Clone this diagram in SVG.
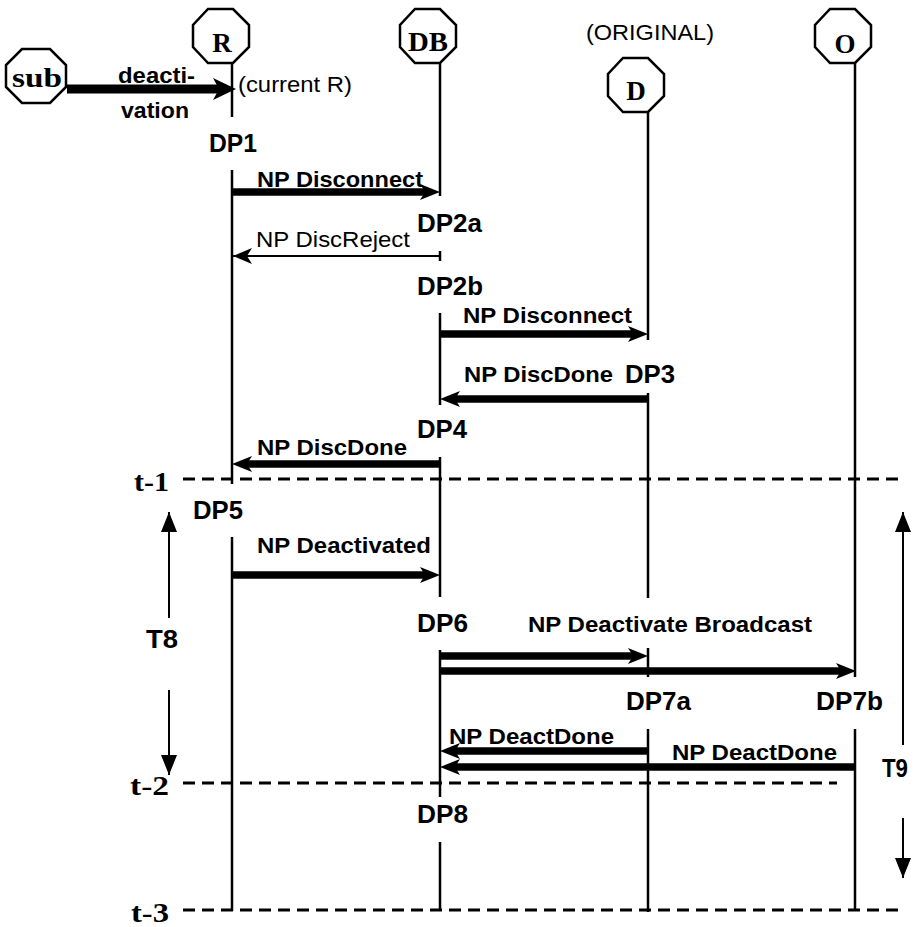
<svg xmlns="http://www.w3.org/2000/svg" width="913" height="927" viewBox="0 0 913 927">
  <style>
    .oct { fill: #fff; stroke: #000; stroke-width: 2.5; }
    .life { stroke: #000; stroke-width: 2.5; fill: none; }
    .olabel { font-family: "Liberation Serif", "Times New Roman", serif; font-weight: bold; font-size: 27px; text-anchor: middle; }
    .dp { font-family: "Liberation Sans", Arial, sans-serif; font-weight: bold; font-size: 26px; }
    .msg { font-family: "Liberation Sans", Arial, sans-serif; font-weight: bold; font-size: 22.5px; }
    .plain { font-family: "Liberation Sans", Arial, sans-serif; font-size: 22px; }
    .tick { font-family: "Liberation Serif", "Times New Roman", serif; font-weight: bold; font-size: 28px; }
    .thick { stroke: #000; stroke-width: 7.5; fill: none; marker-end: url(#head); }
    .thin { stroke: #000; stroke-width: 2; fill: none; marker-end: url(#headThin); }
    .span { stroke: #000; stroke-width: 2; fill: none; marker-end: url(#headT); }
    .dash { stroke: #000; stroke-width: 3; stroke-dasharray: 12 7; fill: none; }
  </style>
  <defs>
    <marker id="head" markerUnits="userSpaceOnUse" viewBox="0 -10 20 20" markerWidth="20" markerHeight="20" refX="8" refY="0" orient="auto">
      <path d="M0,-8 L20,0 L0,8 L5,0 Z" fill="#000"/>
    </marker>
    <marker id="headBig" markerUnits="userSpaceOnUse" viewBox="0 -12 24 24" markerWidth="24" markerHeight="24" refX="10" refY="0" orient="auto">
      <path d="M0,-11 L23,0 L0,11 L6,0 Z" fill="#000"/>
    </marker>
    <marker id="headThin" markerUnits="userSpaceOnUse" viewBox="0 -9 20 18" markerWidth="20" markerHeight="18" refX="19" refY="0" orient="auto">
      <path d="M0,-8 L19,0 L0,8 L5,0 Z" fill="#000"/>
    </marker>
    <marker id="headT" markerUnits="userSpaceOnUse" viewBox="0 -9 20 18" markerWidth="20" markerHeight="18" refX="20" refY="0" orient="auto">
      <path d="M0,-8 L20,0 L0,8 Z" fill="#000"/>
    </marker>
  </defs>

  <!-- time boundaries -->
  <g id="time-marks">
    <line class="dash" x1="183" y1="479" x2="901" y2="479"/>
    <line class="dash" x1="183" y1="783" x2="837" y2="783"/>
    <line class="dash" x1="183" y1="910" x2="901" y2="910"/>
    <text class="tick" x="134" y="491" textLength="35" lengthAdjust="spacingAndGlyphs">t-1</text>
    <text class="tick" x="130" y="795" textLength="39" lengthAdjust="spacingAndGlyphs">t-2</text>
    <text class="tick" x="131" y="922" textLength="38" lengthAdjust="spacingAndGlyphs">t-3</text>
  </g>

  <!-- participants with lifelines -->
  <g id="sub">
    <polygon class="oct" points="22,49 50,49 66,65 66,87 50,103 22,103 6,87 6,65"/>
    <text class="olabel" x="37" y="87" font-size="28" textLength="50" lengthAdjust="spacingAndGlyphs">sub</text>
  </g>
  <g id="R">
    <polygon class="oct" points="208,9 233,9 249,25 249,47 233,63 208,63 193,47 193,25"/>
    <text class="olabel" x="222" y="52">R</text>
    <path class="life" d="M232,63 V117 M232,170 V484 M232,537 V911"/>
    <text class="plain" x="238" y="92" textLength="114" lengthAdjust="spacingAndGlyphs">(current R)</text>
  </g>
  <g id="DB">
    <polygon class="oct" points="415,9 440,9 456,25 456,47 440,63 415,63 400,47 400,25"/>
    <text class="olabel" x="428" y="51" textLength="40" lengthAdjust="spacingAndGlyphs">DB</text>
    <path class="life" d="M440,63 V196 M440,251 V261 M440,313 V405 M440,457 V597 M440,650 V797 M440,842 V911"/>
  </g>
  <g id="D">
    <text class="plain" x="586" y="40" textLength="128" lengthAdjust="spacingAndGlyphs">(ORIGINAL)</text>
    <polygon class="oct" points="623,58 648,58 664,74 664,96 648,112 623,112 608,96 608,74"/>
    <text class="olabel" x="636" y="100">D</text>
    <path class="life" d="M648,112 V340 M648,393 V598 M648,648 V677 M648,729 V912"/>
  </g>
  <g id="O">
    <polygon class="oct" points="830,9 855,9 871,25 871,47 855,63 830,63 815,47 815,25"/>
    <text class="olabel" x="845" y="53" font-size="28">O</text>
    <path class="life" d="M855,63 V677 M855,729 V911"/>
  </g>

  <!-- decision point labels -->
  <g id="decision-points">
    <text class="dp" x="209" y="152" textLength="48" lengthAdjust="spacingAndGlyphs">DP1</text>
    <text class="dp" x="417" y="232" textLength="65" lengthAdjust="spacingAndGlyphs">DP2a</text>
    <text class="dp" x="417" y="295" textLength="66" lengthAdjust="spacingAndGlyphs">DP2b</text>
    <text class="dp" x="625" y="383" textLength="50" lengthAdjust="spacingAndGlyphs">DP3</text>
    <text class="dp" x="417" y="438" textLength="50" lengthAdjust="spacingAndGlyphs">DP4</text>
    <text class="dp" x="193" y="519" textLength="50" lengthAdjust="spacingAndGlyphs">DP5</text>
    <text class="dp" x="417" y="632" textLength="51" lengthAdjust="spacingAndGlyphs">DP6</text>
    <text class="dp" x="626" y="710" textLength="65" lengthAdjust="spacingAndGlyphs">DP7a</text>
    <text class="dp" x="816" y="710" textLength="67" lengthAdjust="spacingAndGlyphs">DP7b</text>
    <text class="dp" x="417" y="823" textLength="51" lengthAdjust="spacingAndGlyphs">DP8</text>
  </g>

  <!-- messages -->
  <g id="connectors">
    <line x1="67" y1="89" x2="223" y2="89" stroke="#000" stroke-width="9" marker-end="url(#headBig)"/>
    <line class="thick" x1="232" y1="192" x2="428" y2="192"/>
    <line class="thin" x1="440" y1="256" x2="233" y2="256"/>
    <line class="thick" x1="440" y1="334" x2="636" y2="334"/>
    <line class="thick" x1="648" y1="399" x2="452" y2="399"/>
    <line class="thick" x1="440" y1="464" x2="244" y2="464"/>
    <line class="thick" x1="232" y1="575" x2="428" y2="575"/>
    <line class="thick" x1="440" y1="656" x2="636" y2="656"/>
    <line class="thick" x1="440" y1="671" x2="844" y2="671"/>
    <line class="thick" x1="648" y1="751" x2="452" y2="751"/>
    <line class="thick" x1="855" y1="767" x2="452" y2="767"/>
    <line class="span" x1="169" y1="618" x2="169" y2="512"/>
    <line class="span" x1="169" y1="690" x2="169" y2="775"/>
    <line class="span" x1="903" y1="745" x2="903" y2="512"/>
    <line class="span" x1="903" y1="818" x2="903" y2="878"/>
  </g>

  <!-- message labels -->
  <g id="message-labels">
    <text class="msg" x="118" y="83" textLength="77" lengthAdjust="spacingAndGlyphs">deacti-</text>
    <text class="msg" x="121" y="118" textLength="68" lengthAdjust="spacingAndGlyphs">vation</text>
    <text class="msg" x="257" y="187" textLength="166" lengthAdjust="spacingAndGlyphs">NP Disconnect</text>
    <text class="plain" x="256" y="247" textLength="154" lengthAdjust="spacingAndGlyphs">NP DiscReject</text>
    <text class="msg" x="463" y="323" textLength="169" lengthAdjust="spacingAndGlyphs">NP Disconnect</text>
    <text class="msg" x="464" y="382" textLength="149" lengthAdjust="spacingAndGlyphs">NP DiscDone</text>
    <text class="msg" x="257" y="455" textLength="150" lengthAdjust="spacingAndGlyphs">NP DiscDone</text>
    <text class="msg" x="257" y="553" textLength="174" lengthAdjust="spacingAndGlyphs">NP Deactivated</text>
    <text class="msg" x="528" y="632" textLength="284" lengthAdjust="spacingAndGlyphs">NP Deactivate Broadcast</text>
    <text class="msg" x="449" y="744" textLength="165" lengthAdjust="spacingAndGlyphs">NP DeactDone</text>
    <text class="msg" x="672" y="760" textLength="165" lengthAdjust="spacingAndGlyphs">NP DeactDone</text>
    <text class="dp" x="146" y="648" textLength="32" lengthAdjust="spacingAndGlyphs">T8</text>
    <text class="dp" x="882" y="777" textLength="26" lengthAdjust="spacingAndGlyphs">T9</text>
  </g>
</svg>
